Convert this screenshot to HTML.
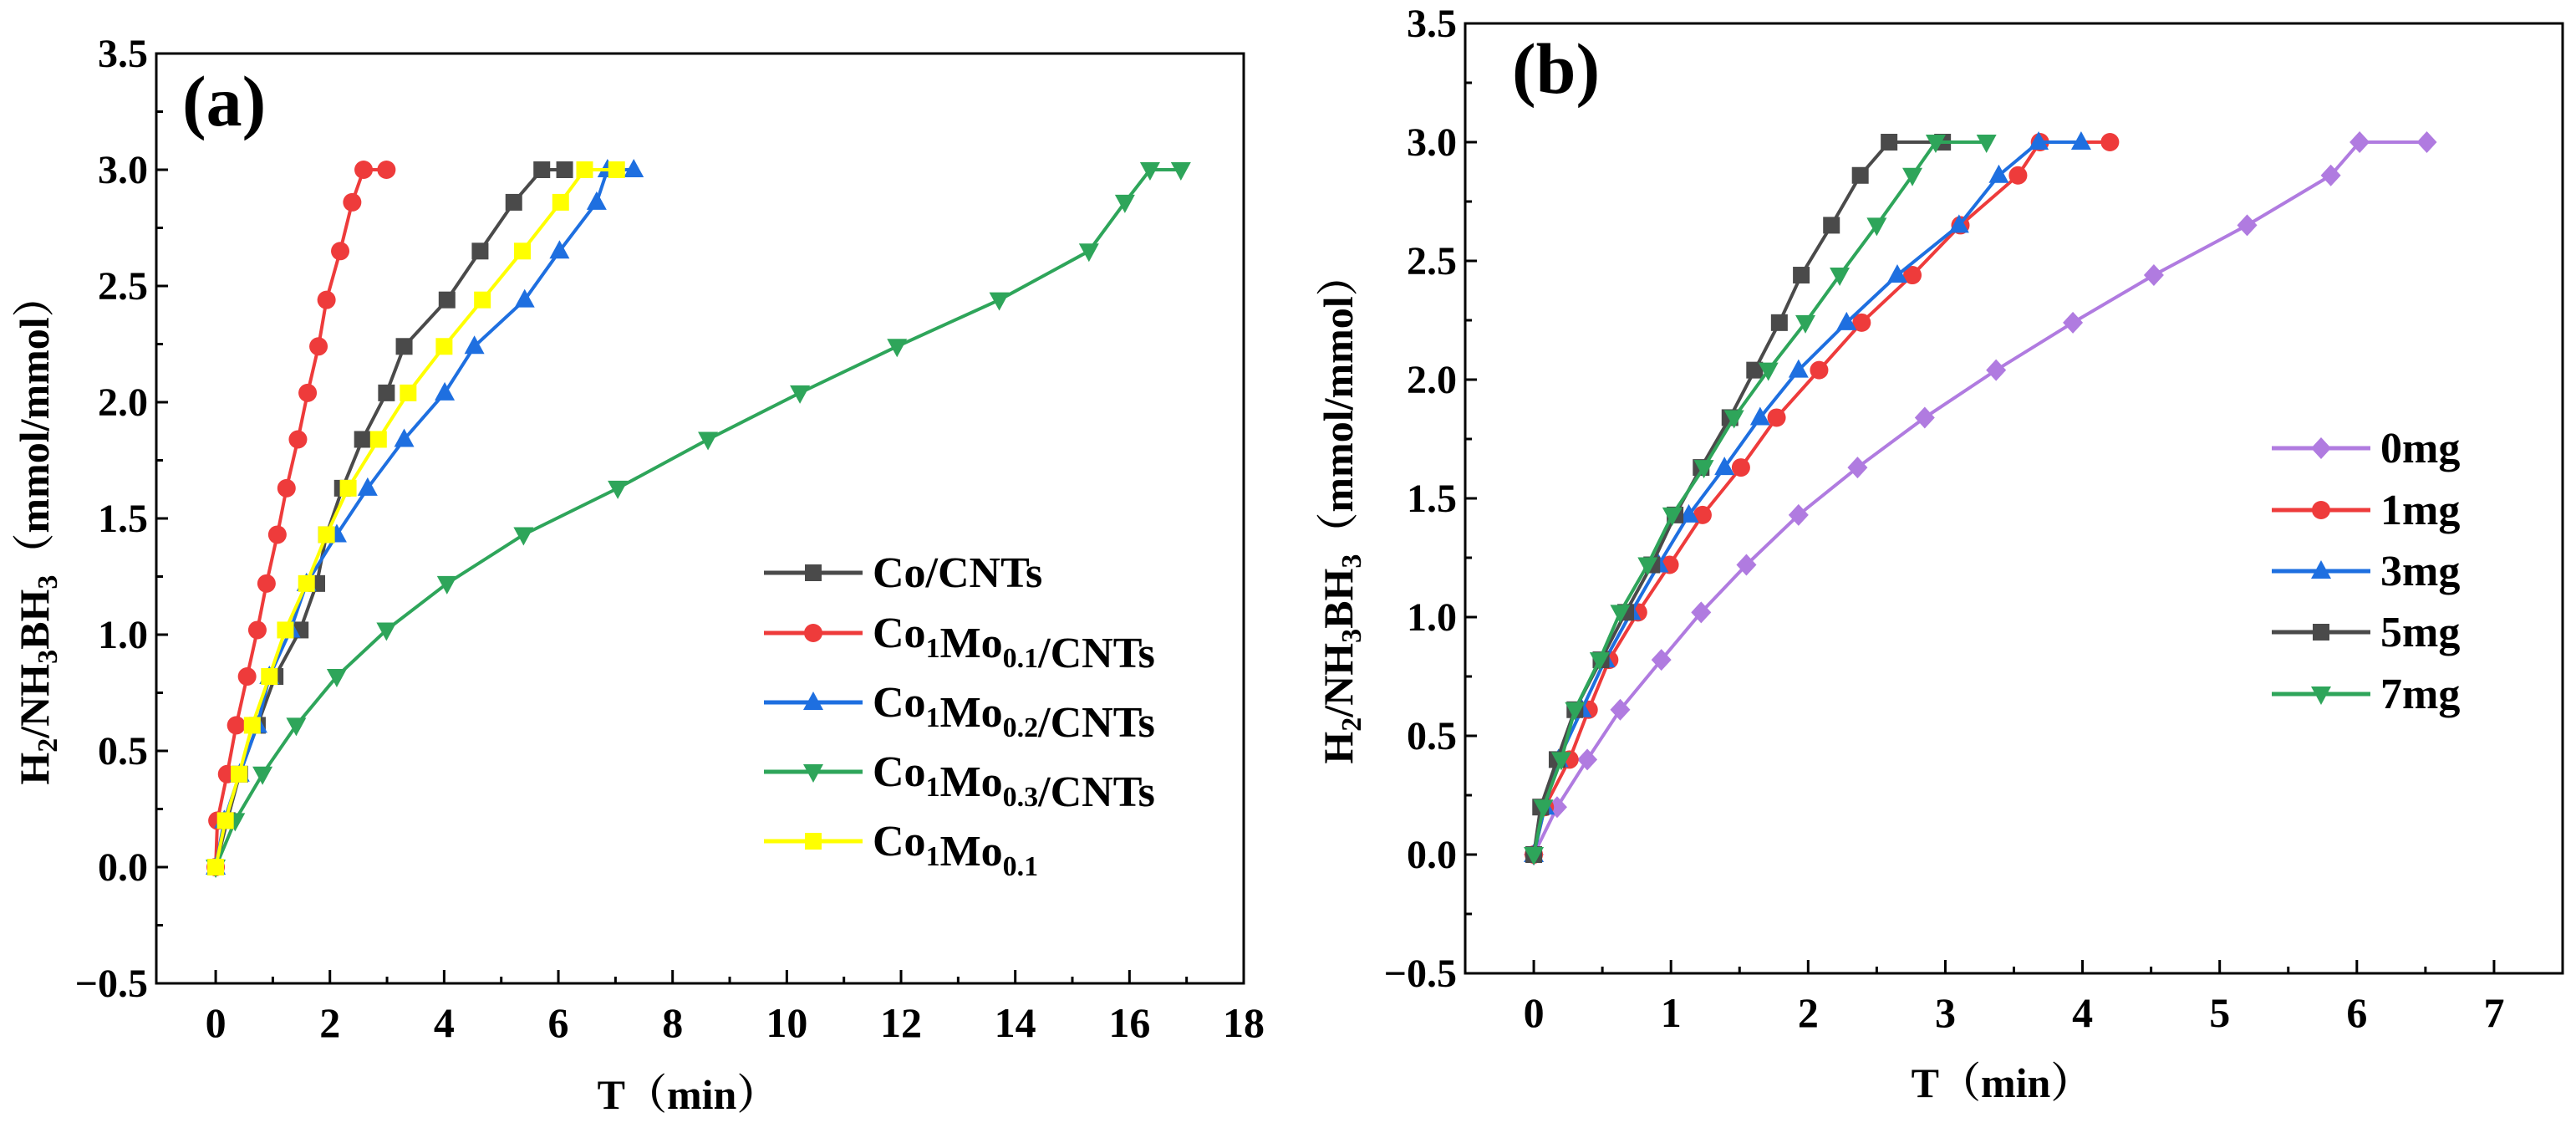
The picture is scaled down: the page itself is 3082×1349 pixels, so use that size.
<!DOCTYPE html>
<html><head><meta charset="utf-8"><style>
html,body{margin:0;padding:0;background:#fff;}
svg, svg text{font-family:"Liberation Serif","Times New Roman","Noto Serif CJK SC",serif;font-weight:bold;}
</style></head><body>
<svg id="chart" width="3082" height="1344" viewBox="0 0 3082 1344" xmlns="http://www.w3.org/2000/svg" font-family="Liberation Serif, Noto Serif CJK SC, serif" font-weight="bold"></svg>
<script>
// Panel (a) data
const yLevels = [0,0.2,0.4,0.61,0.82,1.02,1.22,1.43,1.63,1.84,2.04,2.24,2.44,2.65,2.86,3.0,3.0];
const aNames = ["Co/CNTs","Co1Mo0.1/CNTs","Co1Mo0.2/CNTs","Co1Mo0.3/CNTs","Co1Mo0.1"];
const aCo = [0,0.2,0.42,0.73,1.04,1.48,1.77,1.94,2.22,2.57,2.99,3.30,4.05,4.63,5.22,5.71,6.11];
const aCoMo01 = [0,0.03,0.2,0.36,0.55,0.73,0.89,1.08,1.24,1.44,1.61,1.80,1.94,2.18,2.39,2.59,2.99];
const aCoMo02 = [0,0.15,0.42,0.73,0.94,1.31,1.59,2.12,2.66,3.30,4.01,4.53,5.41,6.02,6.67,6.86,7.32];
const aCoMo03 = [0,0.34,0.82,1.41,2.12,2.99,4.05,5.39,7.04,8.62,10.23,11.93,13.72,15.29,15.92,16.36,16.90];
const aCoMo01b = [0,0.17,0.41,0.64,0.94,1.22,1.59,1.94,2.32,2.85,3.37,4.0,4.67,5.37,6.04,6.46,7.02];
const aXTicks = [0,2,4,6,8,10,12,14,16,18];
// Panel (b) data
const bNames = ["0mg","1mg","3mg","5mg","7mg"];
const b0 = [0,0.17,0.39,0.63,0.93,1.22,1.55,1.93,2.36,2.85,3.37,3.93,4.52,5.20,5.81,6.02,6.51];
const b1 = [0,0.08,0.26,0.40,0.55,0.76,0.99,1.23,1.51,1.77,2.08,2.39,2.76,3.11,3.53,3.69,4.20];
const b3 = [0,0.08,0.18,0.35,0.52,0.71,0.91,1.13,1.39,1.65,1.93,2.28,2.65,3.10,3.39,3.68,3.99];
const b5 = [0,0.05,0.17,0.30,0.49,0.67,0.86,1.03,1.22,1.43,1.61,1.79,1.95,2.17,2.38,2.59,2.98];
const b7 = [0,0.07,0.20,0.30,0.48,0.63,0.83,1.01,1.24,1.46,1.71,1.98,2.23,2.50,2.76,2.93,3.30];
const bXTicks = [0,1,2,3,4,5,6,7];
const yTicks = [-0.5,0.0,0.5,1.0,1.5,2.0,2.5,3.0,3.5];

const NS="http://www.w3.org/2000/svg";
const svg=document.getElementById('chart');
const FF='Liberation Serif, Noto Serif CJK SC, serif';
function mk(tag,attrs,parent){const e=document.createElementNS(NS,tag);for(const k in attrs)e.setAttribute(k,attrs[k]);if(tag==='text'){e.setAttribute('font-family',FF);e.setAttribute('font-weight','bold');}(parent||svg).appendChild(e);return e;}

function marker(g,shape,cx,cy,color){
  let e;
  if(shape==='square') e=mk('rect',{x:cx-10,y:cy-10,width:20,height:20,fill:color},g);
  else if(shape==='circle') e=mk('circle',{cx:cx,cy:cy,r:11,fill:color},g);
  else if(shape==='up') e=mk('polygon',{points:`${cx},${cy-13} ${cx+12},${cy+9} ${cx-12},${cy+9}`,fill:color},g);
  else if(shape==='down') e=mk('polygon',{points:`${cx},${cy+13} ${cx+12},${cy-9} ${cx-12},${cy-9}`,fill:color},g);
  else e=mk('polygon',{points:`${cx},${cy-13} ${cx+12},${cy} ${cx},${cy+13} ${cx-12},${cy}`,fill:color},g);
  return e;
}

function panel(p){
  const g=mk('g',{});
  
  
  const X=v=>p.x0+(v-p.xmin)*(p.x1-p.x0)/(p.xmax-p.xmin);
  const Y=v=>p.y1-(v+0.5)*(p.y1-p.y0)/4;
  const fr=mk('rect',{x:p.x0,y:p.y0,width:p.x1-p.x0,height:p.y1-p.y0,fill:'none',stroke:'#000','stroke-width':3},g);
  
  
  yTicks.forEach((t,i)=>{
    const y=Y(t);
    mk('line',{x1:p.x0,x2:p.x0+14,y1:y,y2:y,stroke:'#000','stroke-width':3},g);
    if(i<yTicks.length-1){const ym=Y(t+0.25);mk('line',{x1:p.x0,x2:p.x0+8,y1:ym,y2:ym,stroke:'#000','stroke-width':3},g);}
    const tx=mk('text',{x:p.x0-10,y:y+16,'text-anchor':'end','font-size':48},g);
    tx.textContent=(t<0?'\u2212':'')+Math.abs(t).toFixed(1);
    
    
  });
  p.xticks.forEach((t,i)=>{
    const x=X(t);
    mk('line',{x1:x,x2:x,y1:p.y1,y2:p.y1-16,stroke:'#000','stroke-width':3},g);
    if(i<p.xticks.length-1){const xm=X(t+p.xstep/2);if(xm<p.x1)mk('line',{x1:xm,x2:xm,y1:p.y1,y2:p.y1-8,stroke:'#000','stroke-width':3},g);}
    const tx=mk('text',{x:x,y:p.y1+64,'text-anchor':'middle','font-size':50},g);
    tx.textContent=String(t);
    
    
  });
  p.series.forEach(s=>{
    const sg=mk('g',{},g);
    
    
    const pts=s.xs.map((v,i)=>X(v)+','+Y(yLevels[i])).join(' ');
    mk('polyline',{points:pts,fill:'none',stroke:s.color,'stroke-width':4},sg);
    s.xs.forEach((v,i)=>{
      const m=marker(sg,s.shape,X(v),Y(yLevels[i]),s.color);
      
      
    });
  });
  p.series.forEach((s,i)=>{
    const y=p.legY[i];
    const lg=mk('g',{},g);
    
    
    mk('line',{x1:p.legX,x2:p.legX+118,y1:y,y2:y,stroke:s.color,'stroke-width':5},lg);
    marker(lg,s.shape,p.legX+59,y,s.color);
    const tx=mk('text',{x:p.legX+130,y:y+17,'font-size':p.legFont},lg);
    tx.innerHTML=s.label;
  });
  const pl=mk('text',{x:p.lab[0],y:p.lab[1],'font-size':86},g);
  pl.textContent=p.labText;
  
  
  const xt=mk('text',{x:p.xt[0],y:p.xt[1],'text-anchor':'middle','font-size':50},g);
  xt.textContent='T\uFF08min\uFF09';
  
  
  const yt=mk('text',{x:0,y:0,'text-anchor':'middle','font-size':50,transform:`translate(${p.yt[0]},${p.yt[1]}) rotate(-90)`},g);
  yt.innerHTML='H<tspan font-size="34" dy="10">2</tspan><tspan dy="-10">/NH</tspan><tspan font-size="34" dy="10">3</tspan><tspan dy="-10">BH</tspan><tspan font-size="34" dy="10">3</tspan><tspan dy="-10">\uFF08mmol/mmol\uFF09</tspan>';
  
  
}
const sub=(a,b)=>a+'<tspan font-size="34" dy="12">'+b+'</tspan><tspan dy="-12"></tspan>';
panel({name:'panel-a',x0:187,x1:1488,y0:64,y1:1176,xmin:-1.04,xmax:18,xticks:aXTicks,xstep:2,
  lab:[218,150],labText:'(a)',xt:[823,1326],yt:[58,634],legX:914,legY:[685,757,840,923,1006],legFont:52,
  series:[
   {key:'co-cnts',xs:aCo,color:'#4a4a4a',shape:'square',label:aNames[0]},
   {key:'co1mo01-cnts',xs:aCoMo01,color:'#ee3b3b',shape:'circle',label:sub('Co','1')+sub('Mo','0.1')+'/CNTs'},
   {key:'co1mo02-cnts',xs:aCoMo02,color:'#1e6fe0',shape:'up',label:sub('Co','1')+sub('Mo','0.2')+'/CNTs'},
   {key:'co1mo03-cnts',xs:aCoMo03,color:'#2ea55a',shape:'down',label:sub('Co','1')+sub('Mo','0.3')+'/CNTs'},
   {key:'co1mo01',xs:aCoMo01b,color:'#ffff00',shape:'square',label:sub('Co','1')+sub('Mo','0.1')}
  ]});
panel({name:'panel-b',x0:1753,x1:3066,y0:28,y1:1164,xmin:-0.5,xmax:7.5,xticks:bXTicks,xstep:1,
  lab:[1809,111],labText:'(b)',xt:[2395,1312],yt:[1618,609],legX:2718,legY:[536,610,683,756,830],legFont:52,
  series:[
   {key:'0mg',xs:b0,color:'#b07be0',shape:'diamond',label:bNames[0]},
   {key:'1mg',xs:b1,color:'#ee3b3b',shape:'circle',label:bNames[1]},
   {key:'3mg',xs:b3,color:'#1e6fe0',shape:'up',label:bNames[2]},
   {key:'5mg',xs:b5,color:'#4a4a4a',shape:'square',label:bNames[3]},
   {key:'7mg',xs:b7,color:'#2ea55a',shape:'down',label:bNames[4]}
  ]});
</script>
</body></html>
